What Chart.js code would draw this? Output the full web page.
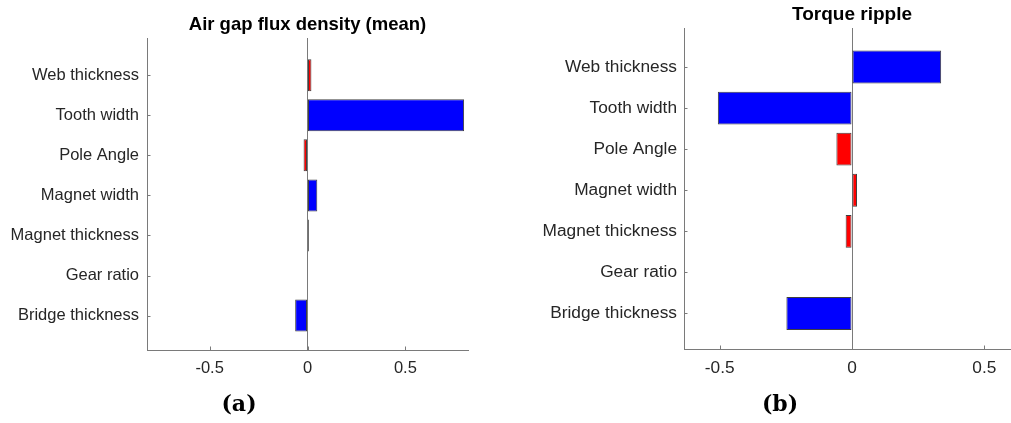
<!DOCTYPE html>
<html>
<head>
<meta charset="utf-8">
<script src="https://cdn.jsdelivr.net/npm/chart.js@4.4.1/dist/chart.umd.min.js"></script>
<style>
    html, body { margin: 0; padding: 0; background: #ffffff; overflow: hidden; }
    body { width: 1011px; height: 423px; position: relative; }
    canvas { position: absolute; top: 0; }
    #fluxChart { left: 0; }
    #rippleChart { left: 500px; }
</style>
</head>
<body>
<canvas id="fluxChart" width="500" height="423"></canvas>
<canvas id="rippleChart" width="530" height="423"></canvas>
<script>
// =========================================================================
// 1. DATA
// =========================================================================
const categories = ['Web thickness', 'Tooth width', 'Pole Angle', 'Magnet width', 'Magnet thickness', 'Gear ratio', 'Bridge thickness'];

const fluxValues = [0.02, 0.80, -0.02, 0.05, 0.007, 0, -0.063];
const fluxHighlighted = [false, true, false, true, false, true, true];

const rippleValues = [0.337, -0.507, -0.059, 0.019, -0.024, 0, -0.248];
const rippleHighlighted = [true, true, false, false, false, true, true];

const xTickValues = [-0.5, 0, 0.5];

const AXIS_GRAY = '#7a7a7a';
const TEXT_DARK = '#262626';

// =========================================================================
// 2. MATLAB-ish axes decorations: inward ticks, title, panel caption
// =========================================================================
const matlabAxes = {
    id: 'matlabAxes',
    afterDraw(chart, args, opts) {
        const ctx = chart.ctx;
        const area = chart.chartArea;
        const xs = chart.scales.x;
        const ys = chart.scales.y;

        ctx.save();
        ctx.strokeStyle = AXIS_GRAY;
        ctx.lineWidth = 1;
        ctx.beginPath();
        xs.ticks.forEach((t, i) => {
            const px = Math.round(xs.getPixelForTick(i)) + 0.5;
            ctx.moveTo(px, area.bottom);
            ctx.lineTo(px, area.bottom - 3.5);
        });
        ys.ticks.forEach((t, i) => {
            const py = Math.round(ys.getPixelForTick(i)) + 0.5;
            ctx.moveTo(area.left, py);
            ctx.lineTo(area.left + 3.5, py);
        });
        ctx.stroke();

        // title
        ctx.fillStyle = '#000000';
        ctx.textAlign = 'center';
        ctx.textBaseline = 'middle';
        ctx.font = 'bold ' + opts.titleSize + 'px "Liberation Sans", Arial, sans-serif';
        ctx.fillText(opts.title, (area.left + area.right) / 2, opts.titleY);

        // caption (a)/(b)
        ctx.font = 'bold 22px "DejaVu Serif", serif';
        ctx.fillText(opts.caption, opts.captionX, opts.captionY);
        ctx.restore();
    }
};

// =========================================================================
// 3. BUILD ONE PANEL
// =========================================================================
function buildPanel(canvasId, values, highlighted, p) {
    const points = values.map((v, i) => ({ x: v, y: i + 1 }));
    const colors = highlighted.map(h => h ? '#0000ff' : '#ff0000');

    return new Chart(document.getElementById(canvasId).getContext('2d'), {
        type: 'bar',
        data: {
            datasets: [{
                data: points,
                backgroundColor: colors,
                borderColor: 'rgba(30,30,30,0.85)',
                borderWidth: 1,
                borderSkipped: false,
                barPercentage: 0.8,
                categoryPercentage: 1.0
            }]
        },
        options: {
            indexAxis: 'y',
            responsive: false,
            animation: false,
            devicePixelRatio: 1,
            layout: { padding: { left: 0, top: p.top, right: p.right, bottom: p.bottom } },
            scales: {
                x: {
                    type: 'linear',
                    offset: false,
                    min: -p.xLim,
                    max: p.xLim,
                    afterBuildTicks: axis => { axis.ticks = xTickValues.map(v => ({ value: v })); },
                    afterFit: axis => { axis.height = 30; },
                    grid: {
                        drawTicks: false,
                        offset: false,
                        color: c => (c.tick && c.tick.value === 0) ? AXIS_GRAY : 'rgba(0,0,0,0)'
                    },
                    border: { display: true, color: AXIS_GRAY, width: 1 },
                    ticks: {
                        padding: 9,
                        color: TEXT_DARK,
                        font: { family: '"Liberation Sans", Arial, sans-serif', size: p.fontSize },
                        callback: v => String(v)
                    }
                },
                y: {
                    type: 'linear',
                    offset: false,
                    reverse: true,
                    min: p.yMin,
                    max: p.yMax,
                    afterBuildTicks: axis => { axis.ticks = categories.map((c, i) => ({ value: i + 1 })); },
                    afterFit: axis => { axis.width = p.yWidth; },
                    grid: { drawTicks: false, offset: false, color: 'rgba(0,0,0,0)' },
                    border: { display: true, color: AXIS_GRAY, width: 1 },
                    ticks: {
                        padding: p.yPad,
                        color: TEXT_DARK,
                        font: { family: '"Liberation Sans", Arial, sans-serif', size: p.fontSize },
                        callback: v => categories[v - 1] || ''
                    }
                }
            },
            plugins: {
                legend: { display: false },
                tooltip: { enabled: false },
                matlabAxes: {
                    title: p.title, titleSize: p.titleSize, titleY: p.titleY,
                    caption: p.caption, captionX: p.captionX, captionY: p.captionY
                }
            }
        },
        plugins: [matlabAxes]
    });
}

buildPanel('fluxChart', fluxValues, fluxHighlighted, {
    top: 38, right: 32, bottom: 43, yWidth: 147, yPad: 8,
    xLim: 0.82, yMin: 0.07, yMax: 7.86, fontSize: 16.5,
    title: 'Air gap flux density (mean)', titleSize: 18.5, titleY: 25,
    caption: '(a)', captionX: 239, captionY: 405
});

buildPanel('rippleChart', rippleValues, rippleHighlighted, {
    top: 28, right: 10, bottom: 44, yWidth: 184, yPad: 7,
    xLim: 0.635, yMin: 0.05, yMax: 7.865, fontSize: 17.3,
    title: 'Torque ripple', titleSize: 19, titleY: 15,
    caption: '(b)', captionX: 280, captionY: 405
});
</script>
</body>
</html>
